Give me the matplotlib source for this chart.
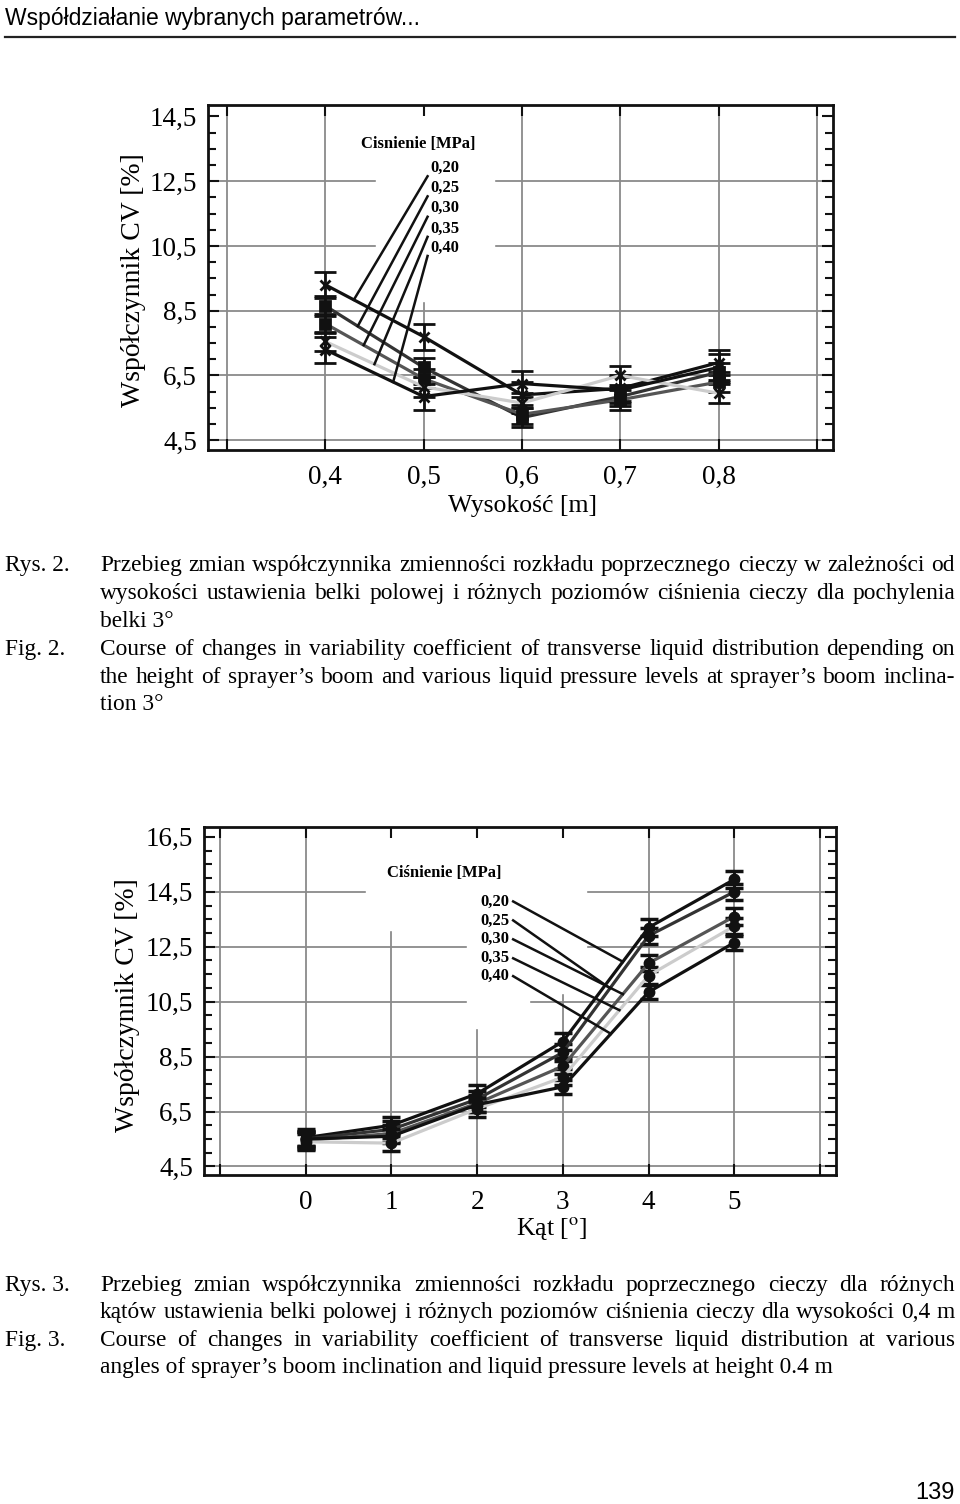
import numpy as np
import matplotlib.pyplot as plt
from matplotlib.ticker import MultipleLocator, FixedLocator
from matplotlib.lines import Line2D
from matplotlib.patches import Rectangle

plt.rcParams['font.family'] = ['Liberation Serif', 'DejaVu Serif']
plt.rcParams['mathtext.fontset'] = 'stix'

# pressure levels (legend) and series colours
pressures = ['0,20', '0,25', '0,30', '0,35', '0,40']
colors = ['#111111', '#333333', '#555555', '#cccccc', '#111111']

# Fig. 2 - CV against boom height
height = [0.4, 0.5, 0.6, 0.7, 0.8]
h_020 = [9.30, 7.70, 5.90, 6.10, 6.90]
h_025 = [8.65, 6.75, 5.20, 5.85, 6.60]
h_030 = [8.10, 6.40, 5.30, 5.75, 6.30]
h_035 = [7.55, 6.15, 5.65, 6.50, 5.95]
h_040 = [7.30, 5.85, 6.25, 6.05, 6.75]
h_err = [0.40, 0.30, 0.30, 0.30, 0.40]

# Fig. 3 - CV against boom angle
angle = [0, 1, 2, 3, 4, 5]
a_020 = [5.55, 6.00, 7.15, 9.05, 13.20, 14.95]
a_025 = [5.50, 5.85, 6.95, 8.65, 12.90, 14.50]
a_030 = [5.45, 5.70, 6.80, 8.15, 11.90, 13.60]
a_035 = [5.40, 5.35, 6.60, 7.75, 11.45, 13.25]
a_040 = [5.50, 5.60, 6.75, 7.40, 10.85, 12.65]
a_err = [0.30, 0.30, 0.30, 0.30, 0.25]

W, H = 960, 1504
fig = plt.figure(figsize=(9.6, 15.04), dpi=100)
grid_c = '#8a8a8a'


def px_axes(l, t, r, b):
    return fig.add_axes([l / W, 1 - b / H, (r - l) / W, (b - t) / H])


def style_axes(ax, xticks, xlab, yticks, xlim, ylim):
    ax.set_xlim(*xlim)
    ax.set_ylim(*ylim)
    for v in xticks:
        ax.axvline(v, color=grid_c, lw=1.3, zorder=0.5)
    for v in yticks[:-1]:
        ax.axhline(v, color=grid_c, lw=1.3, zorder=0.5)
    ax.xaxis.set_major_locator(FixedLocator(xticks))
    ax.set_xticklabels(xlab)
    ax.yaxis.set_major_locator(FixedLocator(yticks))
    ax.set_yticklabels([f'{v:.1f}'.replace('.', ',') for v in yticks])
    ax.yaxis.set_minor_locator(MultipleLocator(0.5))
    ax.tick_params(which='both', direction='in', top=True, right=True,
                   width=1.5, color='#111111', labelsize=19.5)
    ax.tick_params(which='major', length=8)
    ax.tick_params(which='minor', length=6)
    ax.tick_params(axis='y', pad=8)
    ax.tick_params(axis='x', pad=11)
    for s in ax.spines.values():
        s.set_linewidth(2)
        s.set_color('#111111')


# ---------------- chart 1 ----------------
ax1 = px_axes(208, 105, 833, 450)
style_axes(ax1, [0.3, 0.4, 0.5, 0.6, 0.7, 0.8, 0.9],
           ['', '0,4', '0,5', '0,6', '0,7', '0,8', ''],
           [4.5, 6.5, 8.5, 10.5, 12.5, 14.5], (0.2807, 0.9163), (4.2, 14.85))
ax1.add_patch(Rectangle((0.452, 8.8), 0.12, 7, color='white', zorder=0.8))

h_series = [h_020, h_025, h_030, h_035, h_040]
h_markers = ['x', 's', 's', 'x', 'x']
for i in [4, 3, 2, 1, 0]:
    ax1.errorbar(height, h_series[i], yerr=h_err[i], color=colors[i], lw=2.3,
                 ecolor='#111111', elinewidth=2, capsize=8, capthick=2.5,
                 marker=h_markers[i], ms=7.5, mfc='#111111', mec='#111111', mew=2,
                 zorder=2 + i * 0.1)

ax1.text(0.495, 13.65, 'Cisnienie [MPa]', ha='center', va='center',
         fontsize=12, fontweight='bold', zorder=5)
lab1_y = [12.91, 12.29, 11.66, 11.04, 10.45]
lead1_x = [0.429, 0.433, 0.439, 0.450, 0.469]
for i in range(5):
    ax1.text(0.507, lab1_y[i], pressures[i], ha='left', va='center',
             fontsize=12, fontweight='bold', zorder=5)
    ye = np.interp(lead1_x[i], height, h_series[i])
    ax1.plot([0.504, lead1_x[i]], [lab1_y[i] - 0.26, ye], color='#111111',
             lw=1.8, zorder=4)

fig.text(133 / W, 1 - 280 / H, 'Współczynnik CV [%]', rotation=90,
         ha='center', va='center', fontsize=20)
fig.text(523 / W, 1 - 506 / H, 'Wysokość [m]', ha='center', va='center',
         fontsize=18.5)

# ---------------- chart 2 ----------------
ax2 = px_axes(204, 827, 836, 1175)
style_axes(ax2, [-1, 0, 1, 2, 3, 4, 5, 6],
           ['', '0', '1', '2', '3', '4', '5', ''],
           [4.5, 6.5, 8.5, 10.5, 12.5, 14.5, 16.5], (-1.187, 6.187), (4.19, 16.86))
ax2.add_patch(Rectangle((0.70, 13.1), 2.57, 4, color='white', zorder=0.8))
ax2.add_patch(Rectangle((1.88, 10.8), 1.39, 2.4, color='white', zorder=0.8))
ax2.add_patch(Rectangle((1.88, 9.55), 0.72, 1.3, color='white', zorder=0.8))

a_series = [a_020, a_025, a_030, a_035, a_040]
for i in [4, 3, 2, 1, 0]:
    ax2.errorbar(angle, a_series[i], yerr=a_err[i], color=colors[i], lw=2.3,
                 ecolor='#111111', elinewidth=2, capsize=6.5, capthick=2.5,
                 marker='o', ms=7.5, mfc='#111111', mec='#111111',
                 zorder=2 + i * 0.1)

ax2.text(1.62, 15.2, 'Ciśnienie [MPa]', ha='center', va='center',
         fontsize=12, fontweight='bold', zorder=5)
lab2_y = [14.15, 13.46, 12.77, 12.08, 11.43]
lead2_x = [3.70, 3.55, 3.70, 3.66, 3.56]
for i in range(5):
    ax2.text(2.38, lab2_y[i], pressures[i], ha='right', va='center',
             fontsize=12, fontweight='bold', zorder=5)
    ye = np.interp(lead2_x[i], angle, a_series[i])
    ax2.plot([2.42, lead2_x[i]], [lab2_y[i], ye], color='#111111',
             lw=1.8, zorder=4)

fig.text(127 / W, 1 - 1005 / H, 'Współczynnik CV [%]', rotation=90,
         ha='center', va='center', fontsize=20)
fig.text(552 / W, 1 - 1228 / H, 'Kąt [$^{\\rm o}$]', ha='center', va='center',
         fontsize=18.5)

# ---------------- page text ----------------
fig.text(5 / W, 1 - 18 / H, 'Współdziałanie wybranych parametrów...',
         family='Liberation Sans', fontsize=16.5, va='center')
fig.add_artist(Line2D([5 / W, 955 / W], [1 - 37 / H, 1 - 37 / H],
                      color='#222222', lw=1.6))
fig.text(955 / W, 1 - 1493 / H, '139', family='Liberation Sans', fontsize=17,
         ha='right', va='center')

renderer = fig.canvas.get_renderer()
cap_size = 16.8


def put_line(text, x0, yc, x1=None):
    yb = 1 - (yc + 6) / H
    if x1 is None:
        fig.text(x0 / W, yb, text, fontsize=cap_size, va='baseline')
        return
    words = text.split(' ')
    objs = [fig.text(0, yb, w, fontsize=cap_size, va='baseline') for w in words]
    widths = [o.get_window_extent(renderer).width for o in objs]
    gap = (x1 - x0 - sum(widths)) / (len(words) - 1)
    x = x0
    for o, w in zip(objs, widths):
        o.set_x(x / W)
        x += w + gap


put_line('Rys. 2.', 5, 565)
put_line('Przebieg zmian współczynnika zmienności rozkładu poprzecznego cieczy w zależności od', 100, 565, 955)
put_line('wysokości ustawienia belki polowej i różnych poziomów ciśnienia cieczy dla pochylenia', 100, 593, 955)
put_line('belki 3°', 100, 621)
put_line('Fig. 2.', 5, 649)
put_line('Course of changes in variability coefficient of transverse liquid distribution depending on', 100, 649, 955)
put_line('the height of sprayer’s boom and various liquid pressure levels at sprayer’s boom inclina-', 100, 677, 955)
put_line('tion 3°', 100, 704)

put_line('Rys. 3.', 5, 1285)
put_line('Przebieg zmian współczynnika zmienności rozkładu poprzecznego cieczy dla różnych', 100, 1285, 955)
put_line('kątów ustawienia belki polowej i różnych poziomów ciśnienia cieczy dla wysokości 0,4 m', 100, 1312, 955)
put_line('Fig. 3.', 5, 1340)
put_line('Course of changes in variability coefficient of transverse liquid distribution at various', 100, 1340, 955)
put_line('angles of sprayer’s boom inclination and liquid pressure levels at height 0.4 m', 100, 1367)

fig.savefig('out.png', dpi=100)
